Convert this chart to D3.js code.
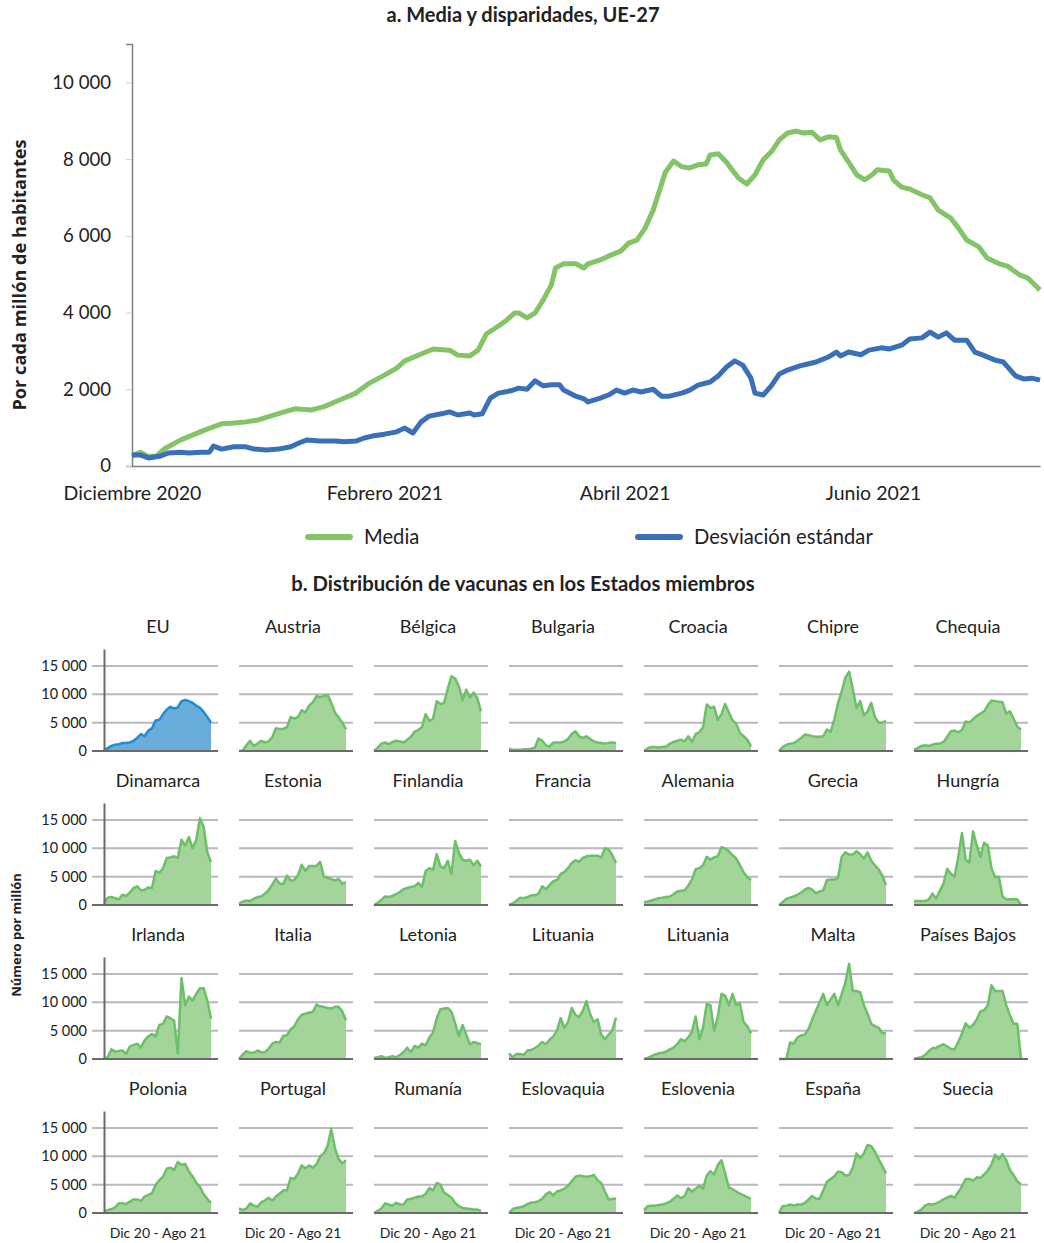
<!DOCTYPE html>
<html>
<head>
<meta charset="utf-8">
<script src="https://cdn.jsdelivr.net/npm/d3@7"></script>
<style>
  body { margin: 0; background: #fff; }
  text { font-family: Lato, "Noto Sans", sans-serif; fill: #222; }
</style>
</head>
<body>
<svg id="chart" width="1044" height="1243"></svg>
<script>
// ---- panel a: media y desviacion estandar (dias desde 1 dic 2020) ----
var mediaDias = [0,2,4,6,8,12,15,18,20,22,25,28,31,34,38,40,44,47,51,55,58,62,65,67,71,74,78,80,83,85,87,90,92,94,95,97,99,101,103,104,106,109,111,112,115,117,120,122,124,126,128,130,131,133,135,137,139,141,142,144,146,147,149,151,153,155,157,159,161,163,165,167,169,171,173,174,176,178,180,182,183,186,187,189,191,194,196,198,201,203,205,208,210,213,215,218,220,223];
var mediaValores = [260,360,250,260,450,680,810,940,1020,1100,1120,1150,1200,1300,1430,1490,1460,1540,1720,1900,2140,2370,2550,2740,2920,3050,3020,2890,2870,3020,3440,3650,3800,3990,3990,3860,3990,4330,4720,5160,5270,5270,5160,5270,5370,5470,5600,5810,5890,6200,6670,7330,7660,7950,7800,7770,7850,7870,8110,8140,7920,7770,7500,7350,7590,7980,8190,8500,8680,8730,8680,8700,8500,8580,8560,8240,7920,7590,7460,7610,7720,7690,7460,7270,7220,7070,6990,6670,6470,6200,5890,5710,5420,5270,5210,4980,4900,4590];

var desvDias = [0,2,4,7,9,12,14,17,19,20,22,25,28,30,33,36,39,41,43,46,50,52,55,57,59,62,65,67,69,71,73,76,78,80,83,84,86,88,90,93,95,97,99,101,103,105,106,109,111,112,115,117,119,121,123,125,128,130,132,135,137,139,142,144,146,148,150,152,153,155,157,159,161,164,166,168,171,173,174,176,179,181,184,186,189,191,194,196,198,200,202,205,207,209,212,214,217,219,221,223];
var desvValores = [290,290,210,260,340,360,340,360,360,520,440,500,500,440,420,440,500,600,680,650,650,630,650,730,780,830,890,990,860,1150,1300,1360,1410,1330,1380,1330,1360,1770,1900,1960,2030,2000,2220,2090,2120,2120,1980,1820,1750,1670,1770,1850,1980,1900,1980,1930,2000,1820,1820,1900,1980,2110,2190,2350,2580,2740,2630,2290,1900,1850,2090,2400,2500,2610,2660,2710,2840,2970,2870,2970,2900,3020,3080,3050,3150,3310,3340,3490,3360,3470,3280,3280,2970,2890,2760,2710,2350,2270,2290,2240];

var yTicksA = [0, 2000, 4000, 6000, 8000, 10000];
var mesesDias = [0, 62, 121, 182];
var mesesEtiquetas = ["Diciembre 2020", "Febrero 2021", "Abril 2021", "Junio 2021"];
var leyenda = ["Media", "Desviación estándar"];

// ---- panel b: vacunas por millon, 30 lecturas por pais ----
var paises = ["EU","Austria","Bélgica","Bulgaria","Croacia","Chipre","Chequia",
  "Dinamarca","Estonia","Finlandia","Francia","Alemania","Grecia","Hungría",
  "Irlanda","Italia","Letonia","Lituania","Lituania","Malta","Países Bajos",
  "Polonia","Portugal","Rumanía","Eslovaquia","Eslovenia","España","Suecia"];

var eu = [100,500,900,1100,1200,1400,1400,1500,1800,2300,3000,2600,3600,4000,5400,5500,6500,7300,7800,7500,7700,8800,9000,8800,8500,8000,7600,6900,6000,5000];
var austria = [0,100,1000,1800,900,1300,1800,1500,1700,2400,4000,3900,3900,4200,6000,5700,6000,7200,6800,8000,8600,9700,9500,9700,9900,8500,6800,5900,5000,3800];
var belgica = [0,600,1300,1500,1200,1600,1800,1700,1500,2000,2500,3400,3700,4200,6500,5300,5700,8800,8300,8500,11000,13200,12800,11400,9000,10800,9400,10300,9300,7000];
var bulgaria = [400,200,200,200,300,300,400,600,2200,1800,1000,800,1500,1500,1500,1700,2100,3000,3500,2600,2300,2600,2100,1700,1500,1400,1300,1400,1500,1400];
var croacia = [0,500,700,700,600,700,800,1300,1600,1800,2000,1700,2600,1600,3000,3300,4200,8200,7600,7800,5500,6500,8300,6800,5400,4800,3200,2600,2000,800];
var chipre = [0,700,1100,1300,1400,1800,2300,2900,2800,2600,2500,2500,2600,3800,3400,5600,8500,10500,13000,14000,11000,7600,8800,6300,7000,8500,6000,5000,5000,5300];
var chequia = [200,500,900,1000,900,1100,1300,1300,1600,2500,3500,3600,3300,3700,5200,5000,5600,6200,6600,7000,8100,8900,8800,8700,8600,6600,7000,5700,4300,3800];
var dinamarca = [300,1300,1400,1200,1000,1800,1600,2200,3000,3300,2600,2700,3100,3000,6000,5700,6500,8300,8400,8600,8300,11500,10500,12000,10000,11500,15300,13800,9300,7600];
var estonia = [300,600,800,700,1100,1400,1500,2000,2600,3600,4700,3800,3700,5200,4300,4400,5300,7100,6000,6900,6900,6900,7600,5000,4800,4600,4300,4600,3800,4000];
var finlandia = [0,400,900,1500,1400,1600,1900,2300,2800,3000,3200,3300,3900,3200,6000,6500,6200,9000,6800,6500,7800,5500,11300,9200,8000,7800,8000,7000,7800,6800];
var francia = [0,300,700,1300,1200,1400,1700,1700,2000,3300,2800,3500,4200,4400,5500,5800,6500,7400,7900,7600,8300,8600,8700,8700,8700,8400,10000,9800,8800,7400];
var alemania = [500,600,800,1000,1200,1300,1400,1500,1900,2400,2500,2600,3400,4500,6300,6500,7000,8500,8000,8400,8600,10200,10000,9500,8800,8200,7000,5800,4900,4400];
var grecia = [0,500,1100,1300,1500,1800,2200,2700,3000,2700,2100,2400,2600,4400,4500,4500,4800,8500,9300,8900,8900,9500,9000,8200,9300,7800,7000,6300,5200,3500];
var hungria = [700,700,700,700,1000,2000,1200,2500,3800,6400,5500,5000,8500,12700,8000,7500,13000,10500,8500,11000,10500,6500,4900,5000,1500,1000,1000,1000,1000,0];
var irlanda = [0,300,1700,1300,1400,1500,900,2200,2500,2700,2000,3300,4000,4400,4000,6000,6200,7500,7200,6800,1000,14300,9500,11000,10300,11500,12500,12500,10300,7100];
var italia = [0,800,1400,1100,1100,1500,1200,1200,1800,2700,3000,2900,4100,4200,5200,5800,7000,7800,8000,8200,8300,9600,9300,9200,9000,8900,9200,9200,8400,6800];
var letonia = [200,300,500,200,300,500,300,700,1200,2000,1200,2300,2000,2700,2400,3800,4700,7200,8800,8900,9000,8300,6300,4000,6000,4300,2600,3000,2800,2600];
var lituania1 = [1000,300,900,900,700,1500,1600,1900,2400,3000,2600,3400,4000,5000,7200,5500,6500,9000,7800,7400,8500,10200,7900,6500,7000,4300,3500,4300,5000,7300];
var lituania2 = [0,200,500,800,1000,1100,1300,1700,2000,2600,3500,3100,3800,4800,7500,3500,5500,9700,9500,5000,7500,11500,11200,9500,11500,9500,9800,6500,5800,4500];
var malta = [0,0,0,2900,2700,3800,4200,4300,5300,7000,8500,10000,11500,9500,10500,11500,9500,11500,13500,16800,12000,12000,11800,9500,8000,6200,5800,5500,4600,4500];
var paisesBajos = [0,200,300,700,1400,1900,2000,2300,2600,2200,1800,1700,3000,4500,6300,5500,6000,7000,8400,8600,9500,13000,12000,12000,12000,9500,7700,6200,6200,0];
var polonia = [300,500,700,1000,1700,1700,1600,2000,2400,2400,2100,2900,3200,3500,5000,5800,6400,7800,8000,7600,9000,8500,8700,7300,6500,5300,4600,3300,2500,1800];
var portugal = [800,500,800,1700,1300,1100,1900,2200,2700,2200,2900,3400,4000,4000,6200,6000,7000,8400,7900,8400,8000,8600,10000,10500,11800,14800,11500,9500,8800,9300];
var rumania = [0,400,800,1700,1500,1300,1800,1500,1500,2400,2500,2700,2900,2900,3400,4400,4000,5300,5000,3600,3200,2700,1800,1200,900,800,700,600,600,400];
var eslovaquia = [0,700,900,1000,1200,1600,1800,1900,2100,2500,3300,3700,3100,3800,4000,4300,4800,5600,6400,6600,6500,6400,6500,6700,5800,5300,3800,2400,2500,2500];
var eslovenia = [500,1200,1300,1300,1400,1500,1700,2000,2500,3100,2600,3000,4400,3800,4300,4800,4300,6600,7400,6800,8500,9300,7000,4500,4200,3800,3400,3100,2800,2500];
var espana = [0,1200,1300,1500,1300,1500,1500,1800,2400,3000,2500,2500,4000,5500,6000,6500,7300,7200,6600,6700,8000,10500,9700,10500,12000,11800,10800,9500,8300,7000];
var suecia = [0,200,600,1300,1600,1500,1700,2000,2400,2700,3000,2700,3700,4700,6000,6000,5700,6300,6200,6800,7500,8600,10300,9500,10400,9300,7600,6700,5600,5000];

var series = [eu,austria,belgica,bulgaria,croacia,chipre,chequia,
  dinamarca,estonia,finlandia,francia,alemania,grecia,hungria,
  irlanda,italia,letonia,lituania1,lituania2,malta,paisesBajos,
  polonia,portugal,rumania,eslovaquia,eslovenia,espana,suecia];

var yTicksB = [0, 5000, 10000, 15000];
var periodo = "Dic 20 - Ago 21";

var fmt = function(v) { return d3.format(",")(v).replace(/,/g, " "); };

var svg = d3.select("#chart");

// ================= panel a =================
var inicio = Date.UTC(2020, 11, 1);
function fecha(d) { return new Date(inicio + d * 864e5); }

var x = d3.scaleUtc().domain([fecha(0), fecha(223)]).range([132, 1040]);
var y = d3.scaleLinear().domain([0, 11000]).range([466, 44]);

svg.append("text").attr("x", 523).attr("y", 22).attr("text-anchor", "middle")
  .style("font-size", "20px").style("font-weight", "bold").text("a. Media y disparidades, UE-27");

var gy = svg.append("g").attr("transform", "translate(132,0)")
  .call(d3.axisLeft(y).tickValues(yTicksA).tickSize(6).tickPadding(15).tickFormat(fmt));
gy.select(".domain").attr("stroke", "#808080").attr("stroke-width", 1.5);
gy.selectAll(".tick line").attr("stroke", "#ccc");
gy.selectAll(".tick text").style("font-size", "18.6px").style("font-family", "Lato").attr("fill", "#222");

var gx = svg.append("g").attr("transform", "translate(0,466)")
  .call(d3.axisBottom(x).tickValues(mesesDias.map(fecha)).tickSize(0).tickPadding(20)
    .tickFormat(function(d, i) { return mesesEtiquetas[i]; }));
gx.select(".domain").attr("stroke", "#808080").attr("stroke-width", 1.5);
gx.selectAll(".tick text").style("font-size", "19.5px").style("font-family", "Lato").attr("fill", "#222");

svg.append("text").attr("transform", "translate(26,275) rotate(-90)").attr("text-anchor", "middle")
  .style("font-size", "18.2px").style("font-weight", "bold").style("font-family", "'Open Sans'")
  .text("Por cada millón de habitantes");

var linea = d3.line().x(function(d) { return x(fecha(d[0])); }).y(function(d) { return y(d[1]); });

svg.append("path").datum(d3.zip(mediaDias, mediaValores)).attr("d", linea)
  .attr("fill", "none").attr("stroke", "#82c466").attr("stroke-width", 5).attr("stroke-linejoin", "round");
svg.append("path").datum(d3.zip(desvDias, desvValores)).attr("d", linea)
  .attr("fill", "none").attr("stroke", "#3a70b9").attr("stroke-width", 5).attr("stroke-linejoin", "round");

// legend
var colLeyenda = ["#82c466", "#3a70b9"];
var posLeyenda = [308, 638];
leyenda.forEach(function(t, i) {
  svg.append("line").attr("x1", posLeyenda[i]).attr("x2", posLeyenda[i] + 42)
    .attr("y1", 537).attr("y2", 537).attr("stroke", colLeyenda[i])
    .attr("stroke-width", 6).attr("stroke-linecap", "round");
  svg.append("text").attr("x", posLeyenda[i] + 56).attr("y", 544)
    .style("font-size", "20.2px").text(t);
});

// ================= panel b =================
svg.append("text").attr("x", 523).attr("y", 591).attr("text-anchor", "middle")
  .style("font-size", "20.3px").style("font-weight", "bold")
  .text("b. Distribución de vacunas en los Estados miembros");

svg.append("text").attr("transform", "translate(21,935) rotate(-90)").attr("text-anchor", "middle")
  .style("font-size", "13px").style("font-weight", "bold").style("font-family", "'Open Sans'")
  .text("Número por millón");

var colX = [104, 239, 374, 509, 644, 779, 914];
var filaY = [751, 905, 1059, 1213];

series.forEach(function(vals, k) {
  var c = k % 7, r = Math.floor(k / 7);
  var x0 = colX[c], base = filaY[r];
  var xs = d3.scaleLinear().domain([0, vals.length - 1]).range([x0, x0 + 107]);
  var ys = d3.scaleLinear().domain([0, 18000]).range([base, base - 102]);
  var g = svg.append("g");
  var izq = c === 0 ? x0 - 12 : x0;

  g.selectAll(".grid").data(yTicksB.slice(1)).enter().append("line")
    .attr("x1", izq).attr("x2", x0 + 114)
    .attr("y1", function(d) { return ys(d); }).attr("y2", function(d) { return ys(d); })
    .attr("stroke", "#b9b9be").attr("stroke-width", 2);

  var verde = k > 0;
  g.append("path").datum(vals)
    .attr("d", d3.area().x(function(d, i) { return xs(i); }).y0(base).y1(function(d) { return ys(d); }))
    .attr("fill", verde ? "#a3d49a" : "#6aaddb");
  g.append("path").datum(vals)
    .attr("d", d3.line().x(function(d, i) { return xs(i); }).y(function(d) { return ys(d); }))
    .attr("fill", "none").attr("stroke", verde ? "#6cc067" : "#1d8fd1")
    .attr("stroke-width", 2.5).attr("stroke-linejoin", "round");

  g.append("line").attr("x1", izq).attr("x2", x0 + 114).attr("y1", base).attr("y2", base)
    .attr("stroke", "#6a6a6a").attr("stroke-width", 2);

  if (c === 0) {
    var ax = g.append("g").attr("transform", "translate(" + x0 + ",0)")
      .call(d3.axisLeft(ys).tickValues(yTicksB).tickSize(0).tickPadding(17).tickFormat(fmt));
    ax.select(".domain").attr("stroke", "#6a6a6a").attr("stroke-width", 2);
    ax.selectAll(".tick text").style("font-size", "14.5px").style("font-family", "Lato").attr("fill", "#333");
  }

  g.append("text").attr("x", x0 + 54).attr("y", base - 118).attr("text-anchor", "middle")
    .style("font-size", "18px").text(paises[k]);

  if (r === 3) {
    g.append("text").attr("x", x0 + 54).attr("y", 1238).attr("text-anchor", "middle")
      .style("font-size", "14px").text(periodo);
  }
});
</script>
</body>
</html>
